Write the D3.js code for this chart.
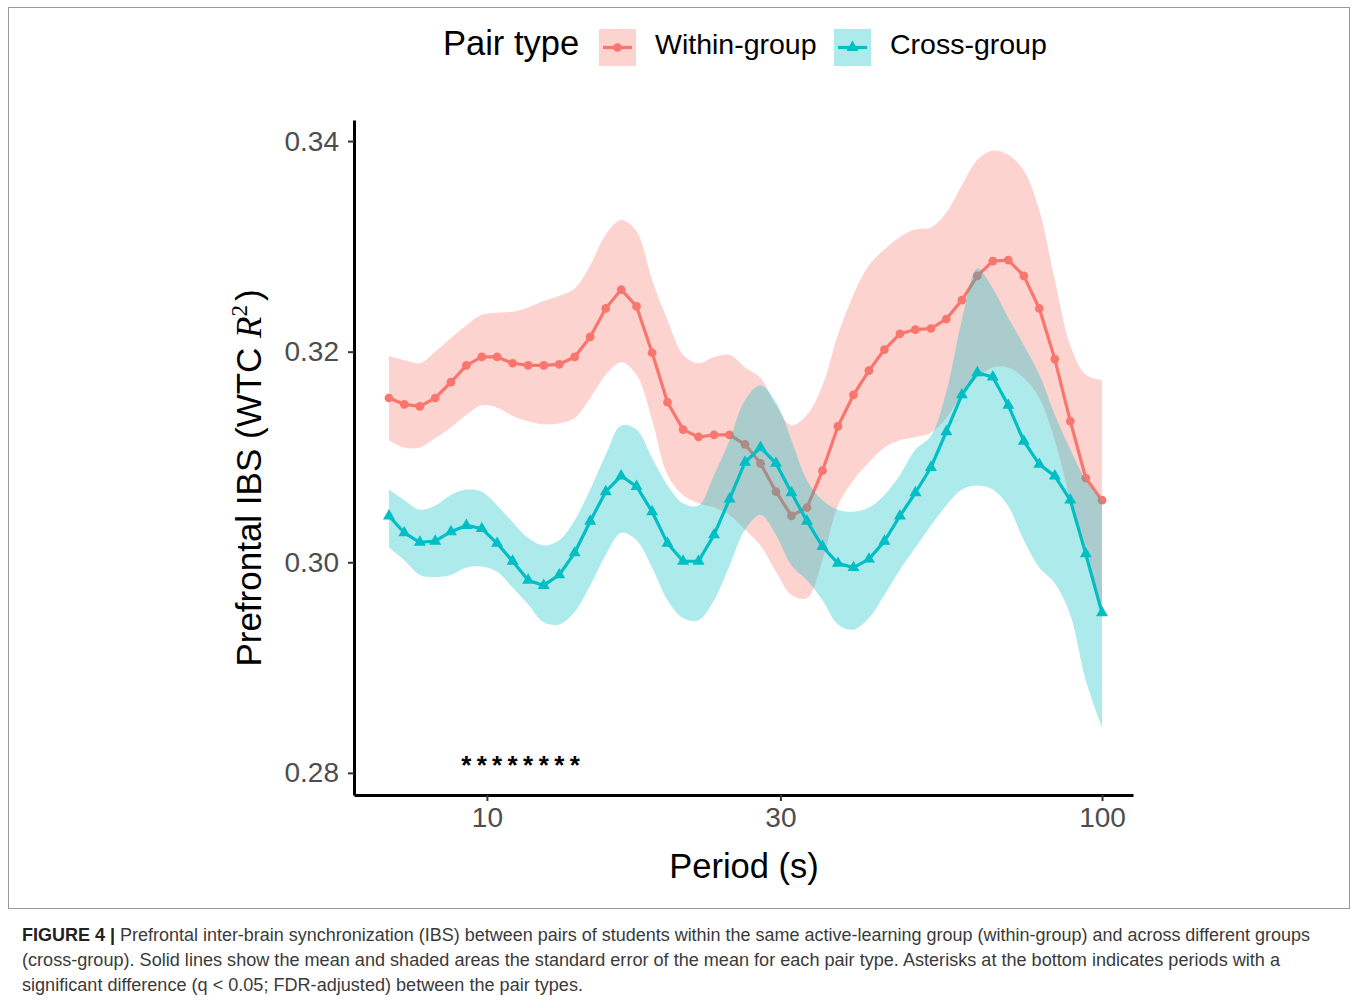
<!DOCTYPE html>
<html>
<head>
<meta charset="utf-8">
<script src="https://cdn.jsdelivr.net/npm/d3@7/dist/d3.min.js"></script>
<style>
  body { margin: 0; background: #fff; }
  svg { display: block; }
  text { font-family: "Liberation Sans", Arial, sans-serif; }
</style>
</head>
<body>
<div id="chart"></div>
<script>
// period (s) of each wavelet scale
const periods = [6.93, 7.34, 7.78, 8.24, 8.74, 9.26, 9.81, 10.39, 11.01, 11.67,
  12.37, 13.11, 13.89, 14.72, 15.60, 16.53, 17.51, 18.56, 19.66, 20.84,
  22.08, 23.40, 24.80, 26.28, 27.85, 29.51, 31.27, 33.14, 35.12, 37.21,
  39.44, 41.79, 44.28, 46.93, 49.73, 52.70, 55.84, 59.18, 62.71, 66.45,
  70.42, 74.62, 79.08, 83.80, 88.80, 94.10, 100];

// within-group: mean, mean+SE, mean-SE
const withinMean = [0.3156, 0.3150, 0.3148, 0.3156, 0.3171, 0.3187, 0.3195, 0.3195, 0.3189, 0.3187,
  0.3187, 0.3188, 0.3195, 0.3214, 0.3241, 0.3259, 0.3243, 0.3199, 0.3152, 0.3126,
  0.3119, 0.3121, 0.3121, 0.3112, 0.3094, 0.3067, 0.3044, 0.3052, 0.3087, 0.3129,
  0.3159, 0.3182, 0.3202, 0.3217, 0.3221, 0.3222, 0.3231, 0.3249, 0.3272, 0.3286,
  0.3287, 0.3272, 0.3241, 0.3193, 0.3134, 0.3080, 0.3059];
const withinUpper = [0.3196, 0.3192, 0.3189, 0.3200, 0.3213, 0.3225, 0.3235, 0.3237, 0.3238, 0.3242,
  0.3248, 0.3253, 0.3260, 0.3282, 0.3311, 0.3325, 0.3314, 0.3268, 0.3230, 0.3197,
  0.3189, 0.3195, 0.3197, 0.3185, 0.3175, 0.3149, 0.3130, 0.3140, 0.3168, 0.3216,
  0.3254, 0.3282, 0.3297, 0.3309, 0.3316, 0.3318, 0.3332, 0.3358, 0.3382, 0.3391,
  0.3387, 0.3372, 0.3334, 0.3268, 0.3206, 0.3178, 0.3173];
const withinLower = [0.3116, 0.3109, 0.3109, 0.3118, 0.3128, 0.3140, 0.3149, 0.3147, 0.3139, 0.3134,
  0.3131, 0.3132, 0.3137, 0.3156, 0.3178, 0.3190, 0.3178, 0.3135, 0.3083, 0.3064,
  0.3056, 0.3052, 0.3045, 0.3031, 0.3016, 0.2991, 0.2969, 0.2966, 0.3002, 0.3054,
  0.3078, 0.3095, 0.3109, 0.3116, 0.3119, 0.3123, 0.3137, 0.3159, 0.3175, 0.3185,
  0.3185, 0.3175, 0.3156, 0.3116, 0.3059, 0.3002, 0.2950];

// cross-group: mean, mean+SE, mean-SE
const crossMean = [0.3044, 0.3028, 0.3019, 0.3020, 0.3029, 0.3035, 0.3032, 0.3018, 0.3001, 0.2983,
  0.2978, 0.2988, 0.3009, 0.3039, 0.3067, 0.3082, 0.3072, 0.3048, 0.3018, 0.3001,
  0.3001, 0.3026, 0.3060, 0.3095, 0.3109, 0.3094, 0.3066, 0.3039, 0.3015, 0.2999,
  0.2995, 0.3003, 0.3020, 0.3044, 0.3066, 0.3090, 0.3124, 0.3159, 0.3180, 0.3176,
  0.3149, 0.3115, 0.3093, 0.3082, 0.3059, 0.3008, 0.2952];
const crossUpper = [0.3069, 0.3059, 0.3050, 0.3054, 0.3064, 0.3069, 0.3067, 0.3054, 0.3038, 0.3023,
  0.3016, 0.3021, 0.3040, 0.3069, 0.3102, 0.3130, 0.3126, 0.3099, 0.3073, 0.3056,
  0.3054, 0.3083, 0.3116, 0.3154, 0.3168, 0.3152, 0.3116, 0.3078, 0.3059, 0.3050,
  0.3048, 0.3052, 0.3064, 0.3083, 0.3107, 0.3120, 0.3162, 0.3230, 0.3279, 0.3260,
  0.3232, 0.3206, 0.3178, 0.3140, 0.3107, 0.3078, 0.3059];
const crossLower = [0.3014, 0.3002, 0.2988, 0.2986, 0.2988, 0.2995, 0.2996, 0.2991, 0.2976, 0.2960,
  0.2943, 0.2941, 0.2953, 0.2978, 0.3007, 0.3028, 0.3021, 0.2995, 0.2964, 0.2947,
  0.2945, 0.2964, 0.2997, 0.3031, 0.3045, 0.3026, 0.2997, 0.2983, 0.2964, 0.2941,
  0.2936, 0.2947, 0.2969, 0.2993, 0.3014, 0.3035, 0.3054, 0.3069, 0.3073, 0.3069,
  0.3053, 0.3021, 0.2995, 0.2980, 0.2950, 0.2888, 0.2843];

// periods marked with an asterisk (q < 0.05)
const sigPeriods = [9.26, 9.81, 10.39, 11.01, 11.67, 12.37, 13.11, 13.89];

const xTicks = [10, 30, 100];
const yTicks = [0.28, 0.30, 0.32, 0.34];

const groups = [
  { name: "Within-group", color: "#F8766D", mean: withinMean, upper: withinUpper, lower: withinLower, shape: "circle" },
  { name: "Cross-group", color: "#00BFC4", mean: crossMean, upper: crossUpper, lower: crossLower, shape: "triangle" }
];

const W = 1358, H = 1003;
const svg = d3.select("#chart").append("svg").attr("width", W).attr("height", H);

// figure frame
svg.append("rect").attr("x", 8.5).attr("y", 7.5).attr("width", 1341).attr("height", 901)
  .attr("fill", "none").attr("stroke", "#9a9a9a").attr("stroke-width", 1);

const x = d3.scaleLog().domain([6.08, 112.3]).range([354, 1133]);
const y = d3.scaleLinear().domain([0.2779, 0.342]).range([795, 120]);

const plot = svg.append("g");

groups.forEach(g => {
  const rows = periods.map((p, i) => ({ p, m: g.mean[i], hi: g.upper[i], lo: g.lower[i] }));

  plot.append("path").datum(rows)
    .attr("fill", g.color).attr("fill-opacity", 0.32)
    .attr("d", d3.area().curve(d3.curveCatmullRom).x(d => x(d.p)).y0(d => y(d.lo)).y1(d => y(d.hi)));

  plot.append("path").datum(rows)
    .attr("fill", "none").attr("stroke", g.color).attr("stroke-width", 3.2)
    .attr("stroke-linejoin", "round")
    .attr("d", d3.line().x(d => x(d.p)).y(d => y(d.m)));

  const sym = d3.symbol().type(g.shape === "circle" ? d3.symbolCircle : d3.symbolTriangle)
    .size(g.shape === "circle" ? 60 : 62);
  plot.selectAll(null).data(rows).join("path")
    .attr("transform", d => `translate(${x(d.p)},${y(d.m)})`)
    .attr("d", sym).attr("fill", g.color);
});

// asterisks
plot.selectAll(null).data(sigPeriods).join("text")
  .attr("x", d => x(d)).attr("y", y(0.28) + 1)
  .attr("text-anchor", "middle").attr("font-size", 26).attr("font-weight", "bold")
  .attr("fill", "#000").text("*");

// axes
const yAxis = svg.append("g").attr("transform", "translate(354,0)")
  .call(d3.axisLeft(y).tickValues(yTicks).tickFormat(d3.format(".2f")).tickSize(6).tickSizeOuter(0).tickPadding(9));
const xAxis = svg.append("g").attr("transform", "translate(0,795)")
  .call(d3.axisBottom(x).tickValues(xTicks).tickFormat(d3.format("d")).tickSize(6).tickSizeOuter(0).tickPadding(4));

[yAxis, xAxis].forEach(a => {
  a.select(".domain").attr("stroke", "#000").attr("stroke-width", 3);
  a.selectAll(".tick line").attr("stroke", "#333").attr("stroke-width", 2);
  a.selectAll(".tick text").attr("fill", "#4d4d4d").attr("font-size", 28)
    .style("font-family", '"Liberation Sans", Arial, sans-serif');
});
xAxis.selectAll(".tick text").attr("dy", "0.8em");

// axis titles
svg.append("text").attr("x", 744).attr("y", 878).attr("text-anchor", "middle")
  .attr("font-size", 34.5).attr("fill", "#000").text("Period (s)");

const yt = svg.append("text").attr("transform", "translate(261,478) rotate(-90)")
  .attr("text-anchor", "middle").attr("font-size", 35).attr("fill", "#000");
yt.append("tspan").text("Prefrontal IBS (WTC ");
yt.append("tspan").style("font-family", '"Liberation Serif", "DejaVu Serif", serif')
  .attr("font-style", "italic").text("R");
yt.append("tspan").style("font-family", '"Liberation Serif", "DejaVu Serif", serif')
  .attr("font-size", 23).attr("dy", -14).text("2");
yt.append("tspan").attr("dy", 14).attr("dx", 4).text(")");

// legend
const leg = svg.append("g");
leg.append("text").attr("x", 443).attr("y", 55).attr("font-size", 34.5).attr("fill", "#000").text("Pair type");
const legX = [599, 834];
groups.forEach((g, i) => {
  const lx = legX[i];
  leg.append("rect").attr("x", lx).attr("y", 29).attr("width", 37).attr("height", 37)
    .attr("fill", g.color).attr("fill-opacity", 0.32);
  leg.append("line").attr("x1", lx + 4).attr("x2", lx + 33).attr("y1", 47.5).attr("y2", 47.5)
    .attr("stroke", g.color).attr("stroke-width", 3.2);
  leg.append("path").attr("transform", `translate(${lx + 18.5},47.5)`)
    .attr("d", d3.symbol().type(g.shape === "circle" ? d3.symbolCircle : d3.symbolTriangle).size(g.shape === "circle" ? 60 : 62))
    .attr("fill", g.color);
  leg.append("text").attr("x", lx + 56).attr("y", 54).attr("font-size", 28.5).attr("fill", "#000").text(g.name);
});

// caption
const capLines = [
  "Prefrontal inter-brain synchronization (IBS) between pairs of students within the same active-learning group (within-group) and across different groups",
  "(cross-group). Solid lines show the mean and shaded areas the standard error of the mean for each pair type. Asterisks at the bottom indicates periods with a",
  "significant difference (q < 0.05; FDR-adjusted) between the pair types."
];
const cap = svg.append("g").attr("fill", "#3a3a3a").attr("font-size", 17.5);
const c1 = cap.append("text").attr("x", 22).attr("y", 941).attr("textLength", 1288).attr("lengthAdjust", "spacingAndGlyphs");
c1.append("tspan").attr("font-weight", "bold").attr("fill", "#222").text("FIGURE 4 | ");
c1.append("tspan").text(capLines[0]);
cap.append("text").attr("x", 22).attr("y", 966).attr("textLength", 1258).attr("lengthAdjust", "spacingAndGlyphs").text(capLines[1]);
cap.append("text").attr("x", 22).attr("y", 991).attr("textLength", 561).attr("lengthAdjust", "spacingAndGlyphs").text(capLines[2]);
</script>
</body>
</html>
